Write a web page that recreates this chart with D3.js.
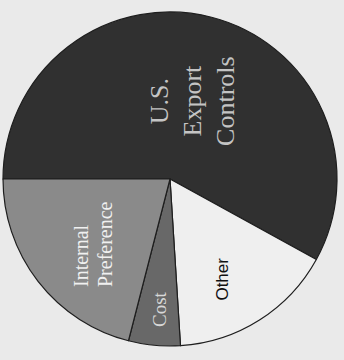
<!DOCTYPE html>
<html>
<head>
<meta charset="utf-8">
<script src="https://cdn.jsdelivr.net/npm/d3@7"></script>
<style>
  html, body { margin: 0; padding: 0; background: #eaeaea; }
  svg { display: block; }
</style>
</head>
<body>
<script>
// ---- data ----
const categories = ["U.S. Export Controls", "Other", "Cost", "Internal Preference"];
const labelLines = [["U.S.", "Export", "Controls"], ["Other"], ["Cost"], ["Internal", "Preference"]];
const values = [58, 16, 5, 21];

// ---- style / layout ----
const W = 344, H = 360;
const cx = 170, cy = 179, R = 167;
const fills = ["#303030", "#efefef", "#686868", "#8a8a8a"];
const textColors = ["#c4c4c4", "#111111", "#d8d8d8", "#f0f0f0"];
const labelStyle = [
  { r: 81, da: 1.5, font: "Liberation Serif", size: 26, lh: 33, anchor: "middle", shift: 0, weight: "normal" },
  { r: 113, da: 5, font: "Liberation Sans", size: 17, lh: 20, anchor: "middle", shift: 0, weight: "normal" },
  { r: 131, da: -1, font: "Liberation Serif", size: 19, lh: 22, anchor: "middle", shift: 0, weight: "normal" },
  { r: 100, da: -2, font: "Liberation Serif", size: 20, lh: 24, anchor: "start", shift: -44, weight: "normal" }
];

const svg = d3.select("body").append("svg").attr("width", W).attr("height", H);
svg.append("rect").attr("width", W).attr("height", H).attr("fill", "#eaeaea");

const pie = d3.pie().sort(null).startAngle(-Math.PI / 2).endAngle(3 * Math.PI / 2);
const arcs = pie(values);
const arc = d3.arc().innerRadius(0).outerRadius(R);

const g = svg.append("g").attr("transform", `translate(${cx},${cy})`);

g.selectAll("path.slice").data(arcs).join("path")
  .attr("class", "slice")
  .attr("d", arc)
  .attr("fill", (d, i) => fills[i])
  .attr("stroke", "#1e1e1e")
  .attr("stroke-width", 1.2)
  .attr("stroke-linejoin", "round");

arcs.forEach((d, i) => {
  const st = labelStyle[i];
  const a = (d.startAngle + d.endAngle) / 2 + st.da * Math.PI / 180;
  const x = Math.sin(a) * st.r, y = -Math.cos(a) * st.r;
  const lines = labelLines[i];
  const n = lines.length;
  const lg = g.append("g").attr("transform", `translate(${x},${y}) rotate(-90)`);
  lines.forEach((t, j) => {
    lg.append("text")
      .attr("x", st.shift)
      .attr("y", (j - (n - 1) / 2) * st.lh + st.size * 0.33)
      .attr("text-anchor", st.anchor)
      .attr("font-family", st.font)
      .attr("font-size", st.size)
      .attr("font-weight", st.weight)
      .attr("fill", textColors[i])
      .text(t);
  });
});
</script>
</body>
</html>
